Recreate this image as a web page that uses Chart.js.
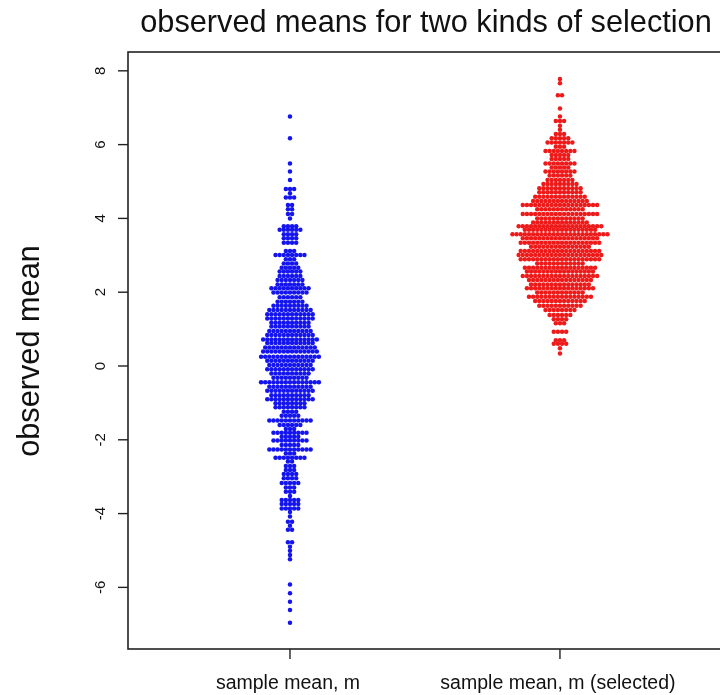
<!DOCTYPE html>
<html>
<head>
<meta charset="utf-8">
<script src="https://cdn.jsdelivr.net/npm/chart.js@4"></script>
<style>
  html, body { margin: 0; padding: 0; background: #fff; overflow: hidden; }
  canvas { display: block; }
</style>
</head>
<body>
<canvas id="swarm" width="720" height="695"></canvas>
<script>
// group names along the x axis
const groups = ["sample mean, m", "sample mean, m (selected)"];
const yTicks = [-6, -4, -2, 0, 2, 4, 6, 8];

// swarm rows: observed mean of each row and how many samples sit in it
const plainLevels = [
  6.76, 6.17, 5.49, 5.27, 5.04, 4.80, 4.68, 4.57, 4.36, 4.25, 4.12, 4.00,
  3.79, 3.69, 3.57, 3.46, 3.34, 3.12, 3.01, 2.89, 2.78, 2.66, 2.56, 2.44,
  2.33, 2.21, 2.11, 1.99, 1.86, 1.74, 1.63, 1.52, 1.40, 1.29, 1.17, 1.07,
  0.95, 0.84, 0.72, 0.62, 0.50, 0.39, 0.25, 0.14, 0.03, -0.09, -0.20, -0.32,
  -0.44, -0.56, -0.67, -0.79, -0.90, -1.01, -1.12, -1.24, -1.35, -1.48, -1.60, -1.71,
  -1.81, -1.92, -2.02, -2.14, -2.26, -2.37, -2.49, -2.59, -2.71, -2.82, -2.93, -3.04,
  -3.17, -3.29, -3.41, -3.52, -3.63, -3.74, -3.86, -3.96, -4.08, -4.22, -4.33, -4.44,
  -4.78, -4.90, -5.01, -5.12, -5.24, -5.92, -6.16, -6.39, -6.61, -6.96
];
const plainCounts = [
  1, 1, 1, 1, 1, 3, 1, 3, 2, 2, 2, 1,
  4, 6, 4, 4, 4, 3, 8, 3, 4, 5, 6, 6,
  7, 7, 10, 9, 6, 7, 9, 11, 12, 12, 10, 10,
  11, 12, 14, 12, 13, 14, 15, 12, 11, 12, 10, 9,
  15, 11, 12, 10, 12, 8, 8, 4, 5, 11, 6, 3,
  9, 5, 9, 5, 11, 3, 8, 2, 3, 3, 4, 4,
  5, 3, 3, 1, 5, 5, 5, 1, 1, 2, 1, 2,
  2, 1, 1, 1, 1, 1, 1, 1, 1, 1
];

const selectedLevels = [
  7.78, 7.66, 7.34, 6.98, 6.76, 6.64, 6.51, 6.40, 6.29, 6.17, 6.06, 5.94,
  5.83, 5.72, 5.61, 5.49, 5.38, 5.27, 5.16, 5.04, 4.93, 4.82, 4.71, 4.59,
  4.47, 4.36, 4.25, 4.12, 4.00, 3.89, 3.79, 3.69, 3.57, 3.46, 3.34, 3.23,
  3.12, 3.01, 2.89, 2.78, 2.66, 2.56, 2.44, 2.33, 2.21, 2.11, 1.99, 1.88,
  1.76, 1.63, 1.52, 1.38, 1.27, 1.16, 0.93, 0.70, 0.60, 0.48, 0.34
];
const selectedCounts = [
  1, 1, 2, 1, 1, 3, 1, 1, 3, 5, 7, 3,
  8, 5, 5, 8, 5, 8, 6, 7, 9, 11, 11, 13,
  14, 19, 12, 19, 12, 14, 21, 18, 24, 19, 20, 15,
  20, 21, 20, 12, 18, 17, 19, 16, 15, 17, 12, 16,
  13, 11, 8, 6, 4, 3, 4, 3, 4, 1, 1
];

// horizontal gap between neighbouring dots, in x-axis units
const DOT_GAP = 0.0153;

// lay each row out symmetrically around its group position
function swarmPoints(center, levels, counts) {
  const pts = [];
  levels.forEach((y, i) => {
    const n = counts[i];
    for (let j = 0; j < n; j++) {
      pts.push({ x: center + (j - (n - 1) / 2) * DOT_GAP, y });
    }
  });
  return pts;
}

const FONT = "'Liberation Sans', Arial, Helvetica, sans-serif";

// R-style frame, ticks and labels drawn on top of the plot
const baseAxes = {
  id: "baseAxes",
  afterDraw(chart) {
    const { ctx, chartArea: area, scales } = chart;
    const xs = scales.x, ys = scales.y;
    ctx.save();
    ctx.strokeStyle = "#222";
    ctx.lineWidth = 1.6;
    ctx.strokeRect(area.left, area.top, area.right - area.left + 20, area.bottom - area.top);

    ctx.fillStyle = "#111";
    ctx.lineWidth = 1.4;
    ctx.font = "15px " + FONT;
    ctx.textAlign = "center";
    ctx.textBaseline = "middle";
    for (const v of yTicks) {
      const py = ys.getPixelForValue(v);
      ctx.beginPath();
      ctx.moveTo(area.left, py);
      ctx.lineTo(area.left - 10, py);
      ctx.stroke();
      ctx.save();
      ctx.translate(101, py);
      ctx.rotate(-Math.PI / 2);
      ctx.fillText(String(v), 0, 0);
      ctx.restore();
    }

    ctx.font = "19.5px " + FONT;
    groups.forEach((name, i) => {
      const px = xs.getPixelForValue(i + 1);
      ctx.beginPath();
      ctx.moveTo(px, area.bottom);
      ctx.lineTo(px, area.bottom + 10);
      ctx.stroke();
      ctx.fillText(name, px - 2, 684);
    });

    ctx.font = "30.7px " + FONT;
    ctx.fillText("observed means for two kinds of selection", 426, 24);

    ctx.save();
    ctx.translate(31, 351);
    ctx.rotate(-Math.PI / 2);
    ctx.fillText("observed mean", 0, 0);
    ctx.restore();
    ctx.restore();
  }
};

new Chart(document.getElementById("swarm"), {
  type: "scatter",
  data: {
    datasets: [
      {
        label: groups[0],
        data: swarmPoints(1, plainLevels, plainCounts),
        backgroundColor: "#1414ee",
        borderWidth: 0,
        pointRadius: 2.25,
      },
      {
        label: groups[1],
        data: swarmPoints(2, selectedLevels, selectedCounts),
        backgroundColor: "#ee1a1a",
        borderWidth: 0,
        pointRadius: 2.25,
      },
    ],
  },
  options: {
    responsive: false,
    devicePixelRatio: 1,
    animation: false,
    layout: { padding: { left: 128, right: 0, top: 52, bottom: 46 } },
    plugins: {
      legend: { display: false },
      tooltip: { enabled: false },
      title: { display: false },
    },
    scales: {
      x: { type: "linear", min: 0.4, max: 2.578, display: false },
      y: { type: "linear", min: -7.67, max: 8.51, display: false },
    },
  },
  plugins: [baseAxes],
});
</script>
</body>
</html>
